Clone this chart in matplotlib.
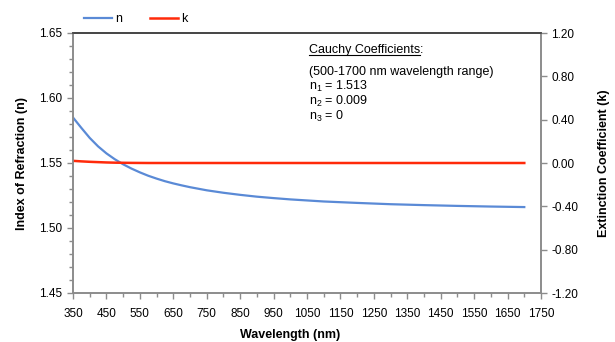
import matplotlib
matplotlib.use('Agg')
import matplotlib.pyplot as plt
from matplotlib.ticker import MultipleLocator

plt.rcParams['font.family'] = ['Liberation Sans', 'DejaVu Sans']
plt.rcParams['mathtext.fontset'] = 'custom'
plt.rcParams['mathtext.rm'] = 'Liberation Sans'
plt.rcParams['mathtext.it'] = 'Liberation Sans'

# wavelength (nm) and values
wavelength = [350, 375, 400, 425, 450, 475, 500, 525, 550, 575, 600, 625, 650, 675,
              700, 750, 800, 850, 900, 950, 1000, 1100, 1200, 1300, 1400, 1500,
              1600, 1700]
n_vals = [1.585, 1.577, 1.5693, 1.5628, 1.5574, 1.5529, 1.549, 1.5457, 1.5428,
          1.5402, 1.538, 1.536, 1.5343, 1.5328, 1.5314, 1.529, 1.5271, 1.5255,
          1.5241, 1.523, 1.522, 1.5204, 1.5193, 1.5183, 1.5176, 1.517, 1.5165, 1.5161]
k_vals = [0.020, 0.015, 0.011, 0.008, 0.005, 0.003, 0.002, 0.001, 0.0005, 0.0,
          0.0, 0.0, 0.0, 0.0, 0.0, 0.0, 0.0, 0.0, 0.0, 0.0, 0.0, 0.0, 0.0, 0.0,
          0.0, 0.0, 0.0, 0.0]
x_ticks = list(range(350, 1751, 100))

blue = '#5a8ad6'
red = '#ff2a0a'
gray = '#8c8c8c'

fig = plt.figure(figsize=(6.15, 3.42), dpi=100)
ax = fig.add_axes([73/615, 1 - 293/342, (541-73)/615, (293-33)/342])
ax2 = ax.twinx()

ln1, = ax.plot(wavelength, n_vals, color=blue, lw=1.6, label='n')
ln2, = ax2.plot(wavelength, k_vals, color=red, lw=1.8, label='k')

ax.set_xlim(350, 1750)
ax.set_ylim(1.45, 1.65)
ax2.set_ylim(-1.2, 1.2)
ax.set_xticks(x_ticks)
ax.xaxis.set_minor_locator(MultipleLocator(50))
ax.yaxis.set_major_locator(MultipleLocator(0.05))
ax.yaxis.set_minor_locator(MultipleLocator(0.01))
ax2.yaxis.set_major_locator(MultipleLocator(0.4))
ax.yaxis.set_major_formatter(plt.FormatStrFormatter('%.2f'))
ax2.yaxis.set_major_formatter(plt.FormatStrFormatter('%.2f'))

for a in (ax, ax2):
    for s in ('left', 'right', 'bottom'):
        a.spines[s].set_color(gray)
        a.spines[s].set_linewidth(1.2)
    a.spines['top'].set_color('#444444')
    a.spines['top'].set_linewidth(1.2)
    a.tick_params(which='both', colors=gray, labelcolor='black', labelsize=8.5, direction='out')
    a.tick_params(which='major', length=4, width=1)
    a.tick_params(which='minor', length=3, width=1)
ax.tick_params(axis='x', pad=7)

ax.set_xlabel('Wavelength (nm)', fontsize=9, fontweight='bold')
ax.xaxis.set_label_coords(0.464, -0.138)
ax.set_ylabel('Index of Refraction (n)', fontsize=9, fontweight='bold', labelpad=8)
ax2.set_ylabel('Extinction Coefficient (k)', fontsize=9, fontweight='bold', labelpad=14)

fig.legend(handles=[ln1, ln2], loc='upper left', bbox_to_anchor=(73/615, 0.995),
           ncol=2, frameon=False, fontsize=9, handlelength=2.2, columnspacing=2.2,
           handletextpad=0.3)

y0 = 0.9215
t = ax.text(0.505, y0, 'Cauchy Coefficients', transform=ax.transAxes, fontsize=9,
            va='baseline')
fig.canvas.draw()
bb = t.get_window_extent().transformed(ax.transAxes.inverted())
ax.text(bb.x1 - 0.001, y0, ':', transform=ax.transAxes, fontsize=9, va='baseline')
ax.plot([bb.x0, bb.x1 - 0.002], [y0 - 0.008, y0 - 0.008], transform=ax.transAxes,
        color='black', lw=0.8)

lines = ['(500-1700 nm wavelength range)', 'n$_1$ = 1.513', 'n$_2$ = 0.009', 'n$_3$ = 0']
ys = [0.838, 0.780, 0.7225, 0.665]
for s, y in zip(lines, ys):
    ax.text(0.505, y, s, transform=ax.transAxes, fontsize=9, va='baseline')

fig.savefig('out.png', dpi=100)
